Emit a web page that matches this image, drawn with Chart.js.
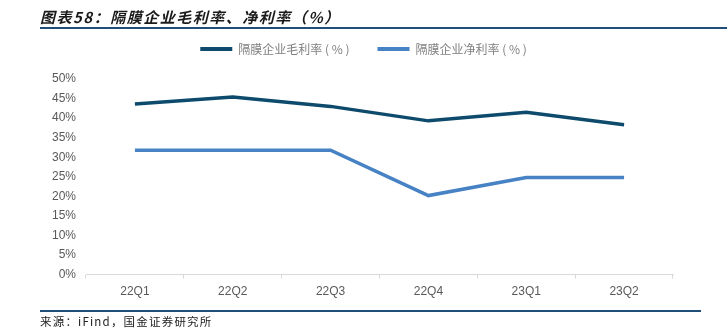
<!DOCTYPE html>
<html>
<head>
<meta charset="utf-8">
<script src="https://cdn.jsdelivr.net/npm/chart.js@4/dist/chart.umd.min.js"></script>
<style>
  html, body { margin: 0; padding: 0; background: #fff; }
  #wrap { position: relative; width: 727px; height: 333px; overflow: hidden; }
  #title {
    position: absolute; left: 40px; top: 6px;
    font: italic bold 15px "Noto Sans CJK SC", sans-serif; color: #1a1a1a;
    letter-spacing: 1.5px; white-space: nowrap;
  }
  #titleRule { position: absolute; left: 40px; top: 27px; width: 687px; height: 1.5px; background: #1f4e79; }
  #footRule { position: absolute; left: 40px; top: 310px; width: 661px; height: 1.5px; background: #1f4e79; }
  #source {
    position: absolute; left: 40px; top: 313px;
    font: 11.5px "Noto Sans CJK SC", monospace; color: #222; white-space: nowrap;
    letter-spacing: 1.2px;
  }
  #c { position: absolute; left: 0; top: 0; }
</style>
</head>
<body>
<div id="wrap">
  <canvas id="c" width="727" height="333"></canvas>
  <div id="title">图表58：隔膜企业毛利率、净利率（%）</div>
  <div id="titleRule"></div>
  <div id="footRule"></div>
  <div id="source">来源：iFind，国金证券研究所</div>
</div>
<script>
// Quarters on the x axis
const quarters = ['22Q1', '22Q2', '22Q3', '22Q4', '23Q1', '23Q2'];
// Separator companies: gross margin and net margin, in percent
const grossMargin = [43.6, 45.4, 43.0, 39.3, 41.5, 38.3];
const netMargin = [31.8, 31.8, 31.8, 20.2, 24.8, 24.8];
// Series names
const seriesNames = ['隔膜企业毛利率 ( % )', '隔膜企业净利率 ( % )'];

const gray = '#595959';
const axisGray = '#d9d9d9';

// Leave extra room under the legend and centre it on the page
const legendPlace = {
  id: 'legendPlace',
  beforeInit(chart) {
    const fit = chart.legend.fit;
    chart.legend.fit = function () {
      fit.call(this);
      this.height += 14;
    };
  },
  afterLayout(chart) {
    chart.legend.left += 27;
    chart.legend.right += 27;
  }
};

new Chart(document.getElementById('c'), {
  type: 'line',
  plugins: [legendPlace],
  data: {
    labels: quarters,
    datasets: [
      { label: seriesNames[0], data: grossMargin, borderColor: '#0d4a6b', backgroundColor: '#0d4a6b',
        borderWidth: 3.5, pointRadius: 0, tension: 0 },
      { label: seriesNames[1], data: netMargin, borderColor: '#4682c4', backgroundColor: '#4682c4',
        borderWidth: 3.5, pointRadius: 0, tension: 0 }
    ]
  },
  options: {
    responsive: false,
    animation: false,
    devicePixelRatio: 1,
    layout: { padding: { left: 0, right: 54, top: 15, bottom: 28 } },
    plugins: {
      tooltip: { enabled: false },
      legend: {
        position: 'top',
        labels: {
          boxWidth: 32, boxHeight: 4, padding: 28,
          color: '#7f7f7f',
          font: { size: 12, family: '"Noto Sans CJK SC", sans-serif' },
          generateLabels(chart) {
            return Chart.defaults.plugins.legend.labels.generateLabels(chart)
              .map((item) => Object.assign(item, { lineWidth: 0 }));
          }
        }
      }
    },
    scales: {
      x: {
        offset: true,
        grid: { display: true, drawOnChartArea: false, offset: true, color: axisGray, tickLength: 4 },
        border: { color: axisGray, width: 1 },
        ticks: { color: gray, padding: 6, font: { size: 12, family: '"Liberation Sans", Arial, sans-serif' } }
      },
      y: {
        min: 0, max: 50,
        afterFit: (s) => { s.width = 86; },
        grid: { display: false, drawTicks: false },
        border: { display: false },
        ticks: {
          stepSize: 5, color: gray, padding: 10,
          font: { size: 12, family: '"Liberation Sans", Arial, sans-serif' },
          callback: (v) => v + '%'
        }
      }
    }
  }
});
</script>
</body>
</html>
